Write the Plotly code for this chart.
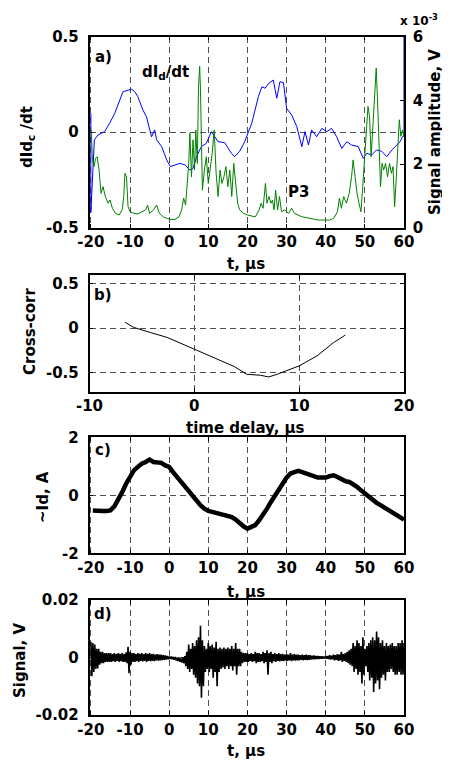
import numpy as np
import plotly.graph_objects as go

# ---- panel a) dI/dt (blue, left axis) and P3 signal amplitude (green, right axis, x1e-3 V)
blue_t = [-20.0, -20.0, -19.1, -18.2, -16.5, -15.2, -13.9, -13.1, -11.8, -9.6,
          -8.8, -8.0, -6.7, -5.8, -5.0, -4.5, -3.7, -3.2, -1.9, -0.6,
          0.3, 1.5, 2.8, 4.1, 5.3, 6.1, 7.0, 8.2, 9.5, 10.8,
          11.6, 12.5, 14.2, 15.9, 16.7, 18.0, 19.3, 20.4, 21.1, 22.8,
          23.7, 24.5, 25.4, 26.6, 27.5, 28.3, 29.2, 30.0, 31.3, 32.6,
          33.9, 34.7, 35.6, 36.4, 37.7, 39.0, 40.3, 41.5, 42.8, 44.1,
          45.4, 46.6, 48.3, 49.6, 50.5, 51.7, 53.0, 54.3, 55.6, 56.9,
          58.1, 59.0, 59.6, 60.0, 60.0]
blue_v = [0.10, -0.42, -0.04, -0.015, 0.003, 0.047, 0.099, 0.142, 0.212, 0.225,
          0.212, 0.186, 0.116, 0.081, 0.012, -0.024, 0.012, -0.04, -0.076, -0.146,
          -0.18, -0.172, -0.163, -0.172, -0.198, -0.19, -0.128, -0.076, -0.058, 0.003,
          -0.024, -0.05, -0.055, -0.11, -0.128, -0.10, -0.05, 0.012, 0.047, 0.186,
          0.238, 0.23, 0.255, 0.273, 0.178, 0.264, 0.26, 0.125, 0.09, 0.03,
          -0.076, 0.003, -0.067, 0.012, -0.024, 0.02, 0.003, 0.02, -0.024, -0.085,
          -0.05, -0.067, -0.075, -0.137, -0.11, -0.12, -0.093, -0.10, -0.128, -0.093,
          -0.067, -0.05, -0.024, -0.02, 0.55]

green_t = [-19.9, -19.6, -19.2, -18.8, -18.4, -17.9, -17.4, -16.9, -16.3, -15.6,
           -15.1, -14.5, -13.7, -12.8, -12.0, -11.6, -11.3, -10.9, -10.5, -10.0,
           -9.0, -8.0, -7.0, -6.0, -5.5, -5.0, -4.0, -3.2, -2.5, -1.5,
           -0.5, 0.5, 1.5, 2.5, 3.2, 3.7, 4.2, 4.6, 5.0, 5.3,
           5.7, 6.1, 6.5, 6.8, 7.2, 7.5, 7.8, 8.0, 8.2, 8.5,
           9.0, 9.5, 10.0, 10.5, 11.0, 11.5, 12.0, 12.5, 13.0, 13.5,
           14.0, 14.5, 15.0, 15.5, 16.0, 16.5, 17.0, 17.5, 18.0, 19.0,
           20.0, 21.0, 22.0, 23.0, 23.5, 24.0, 24.6, 25.0, 25.5, 26.0,
           26.4, 26.8, 27.2, 27.7, 28.2, 28.7, 29.5, 30.5, 31.3, 32.0,
           33.0, 34.0, 35.0, 36.0, 37.0, 38.0, 39.0, 40.0, 41.0, 42.0,
           43.0, 43.5, 44.0, 44.6, 45.3, 46.0, 46.6, 47.0, 47.5, 48.0,
           48.5, 49.0, 49.4, 49.8, 50.3, 50.8, 51.2, 51.6, 52.0, 52.5,
           52.9, 53.2, 53.6, 54.0, 54.4, 54.8, 55.3, 55.8, 56.3, 56.8,
           57.2, 57.6, 58.0, 58.4, 58.8, 59.2, 59.6, 60.0]
green_v = [3.07, 2.13, 1.92, 2.18, 2.23, 1.81, 1.08, 1.29, 0.98, 0.77,
           0.87, 0.61, 0.45, 0.40, 0.56, 0.98, 1.71, 1.60, 0.66, 0.50,
           0.45, 0.43, 0.50, 0.56, 0.71, 0.45, 0.56, 0.71, 0.45, 0.34,
           0.29, 0.26, 0.26, 0.34, 0.56, 0.93, 0.71, 1.29, 2.02, 2.97,
           1.60, 2.76, 1.81, 3.07, 2.02, 4.44, 5.07, 4.33, 3.28, 1.18,
           1.81, 2.23, 1.39, 1.81, 2.34, 3.07, 1.71, 0.98, 1.81, 1.39,
           1.60, 1.92, 1.29, 1.81, 0.98, 2.02, 1.29, 0.77, 0.56, 0.45,
           0.40, 0.37, 0.34, 0.56, 0.77, 0.61, 1.39, 0.77, 0.98, 0.77,
           0.87, 0.56, 1.18, 0.56, 0.98, 0.50, 0.56, 0.45, 0.61, 0.45,
           0.40, 0.34, 0.32, 0.29, 0.26, 0.24, 0.24, 0.24, 0.24, 0.29,
           0.50, 0.93, 0.61, 0.98, 0.77, 1.08, 1.60, 2.13, 1.60, 1.08,
           0.77, 0.50, 1.18, 2.02, 2.76, 3.81, 3.49, 2.23, 3.07, 4.33,
           5.01, 4.12, 2.66, 1.29, 2.02, 1.81, 2.02, 1.60, 2.02, 1.71,
           1.92, 0.66, 1.50, 2.66, 3.39, 2.87, 3.07, 2.87]

# ---- panel b) cross-correlation vs time delay
corr_lag = [-6.6, -5.8, -4.2, -2.6, 0.0, 2.2, 3.8, 5.0, 6.3, 7.1, 7.9, 10.0, 11.7, 13.3, 14.4]
corr_val = [0.065, 0.008, -0.05, -0.106, -0.239, -0.352, -0.435, -0.523, -0.534, -0.553,
            -0.523, -0.428, -0.315, -0.163, -0.08]

# ---- panel c) ~Id current
id_t = list(range(-20, 61))
id_t[0] = -19.5
id_v = [-0.52, -0.53, -0.54, -0.54, -0.54, -0.52, -0.38, -0.17, 0.11, 0.40,
        0.63, 0.86, 0.98, 1.09, 1.15, 1.23, 1.15, 1.15, 1.12, 1.03,
        0.98, 0.80, 0.63, 0.46, 0.34, 0.17, 0.00, -0.17, -0.34, -0.46,
        -0.54, -0.57, -0.61, -0.63, -0.66, -0.69, -0.75, -0.84, -0.98, -1.07,
        -1.15, -1.11, -1.03, -0.86, -0.69, -0.46, -0.23, 0.00, 0.17, 0.40,
        0.61, 0.75, 0.80, 0.84, 0.80, 0.75, 0.72, 0.63, 0.61, 0.61,
        0.61, 0.66, 0.69, 0.63, 0.54, 0.49, 0.46, 0.38, 0.29, 0.17,
        0.06, -0.08, -0.17, -0.26, -0.34, -0.43, -0.52, -0.61, -0.69, -0.77,
        -0.84]

# ---- panel d) raw signal, envelope peaks every 0.5 us (mV)
sig_up_mV = [5.5, 5, 4.5, 3, 3, 2, 2, 1.5, 1.5, 1.5,
             1.5, 1.2, 1.5, 1.2, 1.5, 1.3, 1.5, 1.2, 1.8, 3.7,
             2, 1.5, 1.5, 1.2, 1.5, 1.3, 1.5, 1.2, 1.5, 1.3,
             1.5, 1.2, 1.3, 1, 1.2, 1, 1, 0.8, 0.7, 0.5,
             0.3, 0.3, 0.2, 0.2, 0, 0, -0.3, 0, 0.5, 2,
             4.5, 3, 5, 4, 6, 7, 11, 6, 4, 3,
             5, 4, 4.5, 3.5, 5.5, 3, 3.5, 3, 3.5, 3,
             3.5, 3, 4, 3, 5, 3, 3, 2, 1.5, 1.5,
             1.5, 1.2, 1.5, 1.2, 2, 1.5, 1.5, 1.2, 2, 1.5,
             2.5, 1.5, 2, 1.2, 1.5, 1.2, 1.5, 1.2, 1.3, 1,
             1.2, 1, 1.5, 1, 1.2, 1, 1, 0.8, 1, 0.8,
             1, 0.8, 0.8, 0.6, 0.7, 0.5, 0.5, 0.4, 0.4, 0.3,
             0.4, 0.5, 0.8, 0.6, 1, 0.8, 1.2, 1, 2, 1.2,
             1.5, 2, 2.5, 3, 5, 4, 6, 5, 4, 7,
             3, 4, 5, 6, 7, 6, 9, 7, 5, 6,
             4, 5, 4, 4.5, 5, 4, 4, 5, 5, 6,
             5]
sig_lo_mV = [-6.5, -5, -4, -3.8, -2.5, -2, -2, -1.5, -1.5, -1.5,
             -1.5, -1.3, -1.5, -1.2, -1.5, -1.3, -1.5, -1.5, -2, -5.5,
             -2.5, -1.5, -1.5, -1.3, -1.5, -1.2, -1.4, -1.2, -1.5, -1.2,
             -1.3, -1.2, -1.3, -1, -1.1, -1, -0.9, -0.8, -0.7, -0.6,
             -0.5, -0.6, -0.8, -1, -1.2, -1.5, -1.8, -2, -3, -4,
             -5, -4, -6, -7, -9, -10, -14, -10, -5, -4,
             -5, -4, -7, -5, -10, -5, -4, -3.5, -4, -3,
             -4, -3, -4.5, -3, -6, -3, -3, -2, -1.5, -1.5,
             -1.5, -1.2, -1.5, -1.3, -2, -1.5, -1.5, -1.3, -2, -1.5,
             -6, -1.5, -2, -1.3, -1.5, -1.2, -1.4, -1.2, -1.3, -1,
             -1.2, -1, -1.3, -1, -1.1, -1, -1, -0.8, -1, -0.8,
             -0.9, -0.8, -0.7, -0.6, -0.6, -0.5, -0.5, -0.4, -0.4, -0.3,
             -0.4, -0.5, -0.7, -0.6, -1, -0.8, -1.2, -1, -1.5, -1.2,
             -1.5, -2, -2.5, -3, -5, -4, -6, -5, -9, -6,
             -3, -5, -8, -7, -12, -9, -8, -11, -7, -6,
             -8, -5, -5, -4, -5, -6, -6, -5, -6, -6,
             -5]

W, H = 450, 760
PAGE_PAD = 8  # default body margin of the html page


def px(x):
    # window pixel -> paper fraction
    return (x - PAGE_PAD) / W


def py(y):
    return 1 - (y - PAGE_PAD) / H


FONT = dict(family="DejaVu Sans", size=15, color="black", weight="bold")

# zigzag between the envelope peaks so it looks like the dense raw trace
sig_t = []
sig_v = []
for i in range(len(sig_up_mV)):
    t0 = -20 + 0.5 * i
    sig_t += [t0, t0 + 0.25]
    sig_v += [sig_up_mV[i] * 1e-3, sig_lo_mV[i] * 1e-3]

fig = go.Figure()
fig.add_trace(go.Scatter(x=blue_t, y=blue_v, mode="lines", line=dict(color="#0000ff", width=1),
                         xaxis="x", yaxis="y"))
fig.add_trace(go.Scatter(x=green_t, y=green_v, mode="lines", line=dict(color="#008000", width=1),
                         xaxis="x", yaxis="y2"))
fig.add_trace(go.Scatter(x=corr_lag, y=corr_val, mode="lines", line=dict(color="black", width=1),
                         xaxis="x2", yaxis="y3"))
fig.add_trace(go.Scatter(x=id_t, y=id_v, mode="lines", line=dict(color="black", width=4.5),
                         xaxis="x3", yaxis="y4"))
fig.add_trace(go.Scatter(x=sig_t, y=sig_v, mode="lines", line=dict(color="black", width=1.6),
                         xaxis="x4", yaxis="y5"))

xdom = [px(89.5), px(404)]
dom_a = [py(227.7), py(36.7)]
dom_b = [py(391.7), py(275)]
dom_c = [py(553.3), py(437.3)]
dom_d = [py(715), py(600)]

common = dict(showline=True, linecolor="black", linewidth=1.5, ticks="inside", ticklen=4,
              tickcolor="black", showgrid=True, gridcolor="#505050", gridwidth=1,
              griddash="6px,4px", zeroline=False, tickfont=FONT, automargin=False)

t_ticks = list(range(-20, 61, 10))


def xax(anchor, rng, vals):
    return dict(common, domain=xdom, anchor=anchor, range=rng, tickvals=vals,
                ticktext=[str(v) for v in vals], mirror="ticks")


def yax(anchor, dom, rng, vals, texts, mirror="ticks"):
    return dict(common, domain=dom, anchor=anchor, range=rng, tickvals=vals, ticktext=texts,
                mirror=mirror, ticklabelstandoff=6)


fig.update_layout(
    width=W, height=H, showlegend=False,
    paper_bgcolor="white", plot_bgcolor="white",
    margin=dict(l=0, r=0, t=0, b=0, autoexpand=False),
    font=FONT,
    xaxis=xax("y", [-20.35, 60], t_ticks),
    yaxis=yax("x", dom_a, [-0.5, 0.5], [-0.5, 0, 0.5], ["-0.5", "0", "0.5"], mirror=True),
    yaxis2=dict(common, overlaying="y", side="right", anchor="x", range=[0, 6],
                tickvals=[0, 2, 4, 6], ticktext=["0", "2", "4", "6"], showgrid=False,
                ticklabelstandoff=4),
    xaxis2=xax("y3", [-10, 20], [-10, 0, 10, 20]),
    yaxis3=yax("x2", dom_b, [-0.72, 0.6], [-0.5, 0, 0.5], ["-0.5", "0", "0.5"]),
    xaxis3=xax("y4", [-20.35, 60], t_ticks),
    yaxis4=yax("x3", dom_c, [-2, 2], [-2, 0, 2], ["-2", "0", "2"]),
    xaxis4=xax("y5", [-20.35, 60], t_ticks),
    yaxis5=yax("x4", dom_d, [-0.02, 0.02], [-0.02, 0, 0.02], ["-0.02", "0", "0.02"]),
)


def note(text, x, y, angle=0, xanchor="center", size=15):
    fig.add_annotation(text=text, x=px(x), y=py(y), xref="paper", yref="paper",
                       showarrow=False, textangle=angle, font=dict(FONT, size=size),
                       xanchor=xanchor, yanchor="middle")


# y titles
note("dId<sub>c</sub> /dt", 27, 137, -90)
note("Signal amplitude, V", 435, 132, -90)
note("Cross-corr", 30, 332, -90)
note("~Id, A", 43, 497, -90)
note("Signal, V", 20, 660, -90)
# x titles
note("t, µs", 246, 264)
note("time delay, µs", 246, 428)
note("t, µs", 246, 592)
note("t, µs", 246, 751)
# in-plot labels
note("a)", 103, 57)
note("b)", 103, 295)
note("c)", 103, 450)
note("d)", 103, 614)
note("dI<sub>d</sub>/dt", 165, 73)
note("P3", 298, 192)
note("x 10<sup>-3</sup>", 398, 20, xanchor="left", size=12)

fig.write_html("out.html")
